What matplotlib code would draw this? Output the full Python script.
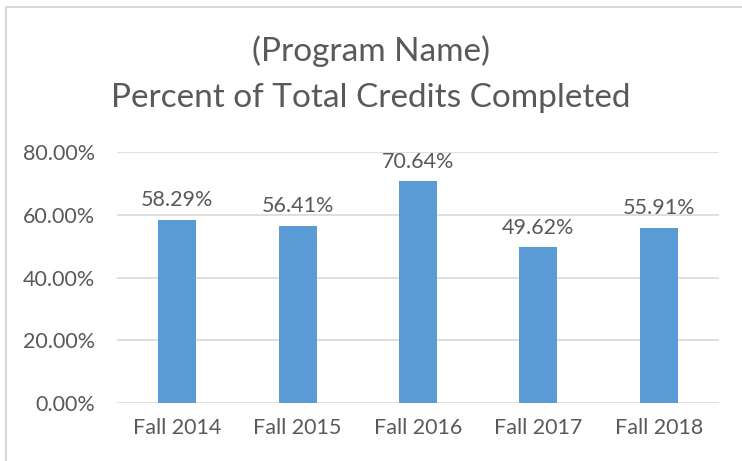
import matplotlib.pyplot as plt
from matplotlib.patches import Rectangle

categories = ["Fall 2014", "Fall 2015", "Fall 2016", "Fall 2017", "Fall 2018"]
percent_completed = [58.29, 56.41, 70.64, 49.62, 55.91]
y_ticks = [0, 20, 40, 60, 80]

plt.rcParams['font.family'] = ['Lato', 'DejaVu Sans']
text_grey = "#595959"

fig = plt.figure(figsize=(7.42, 4.61), dpi=100)
# chart outline like the Excel chart area (right and bottom edges are cut off)
top = 1 - 7 / 461
fig.patches.append(Rectangle((5.5 / 742, top - 2), 2, 2, transform=fig.transFigure,
                             fill=False, edgecolor="#D9D9D9", linewidth=1.5))

ax = fig.add_axes([117 / 742, 1 - 403 / 461, (719 - 117) / 742, (403 - 152) / 461])
x = range(len(categories))
bars = ax.bar(x, percent_completed, width=0.316, color="#5B9BD5", zorder=3)

for b, v in zip(bars, percent_completed):
    ax.annotate(f"{v:.2f}%", (b.get_x() + b.get_width() / 2, v), xytext=(0, 7),
                textcoords="offset points", ha="center", va="bottom",
                fontsize=15.5, color=text_grey)

ax.set_xlim(-0.5, len(categories) - 0.5)
ax.set_ylim(0, 80)
ax.set_yticks(y_ticks)
ax.set_yticklabels([f"{t:.2f}%" for t in y_ticks])
ax.set_xticks(list(x))
ax.set_xticklabels(categories)
ax.tick_params(axis="both", length=0, labelsize=15.5, labelcolor=text_grey)
ax.tick_params(axis="y", pad=16)
ax.tick_params(axis="x", pad=11)
ax.grid(axis="y", color="#D9D9D9", linewidth=1.2, zorder=0)
for s in ax.spines.values():
    s.set_visible(False)

fig.text(0.5, 1 - 51 / 461, "(Program Name)", ha="center", va="center",
         fontsize=24, color=text_grey)
fig.text(0.5, 1 - 98 / 461, "Percent of Total Credits Completed", ha="center",
         va="center", fontsize=24, color=text_grey)

fig.savefig("out.png", dpi=100)
